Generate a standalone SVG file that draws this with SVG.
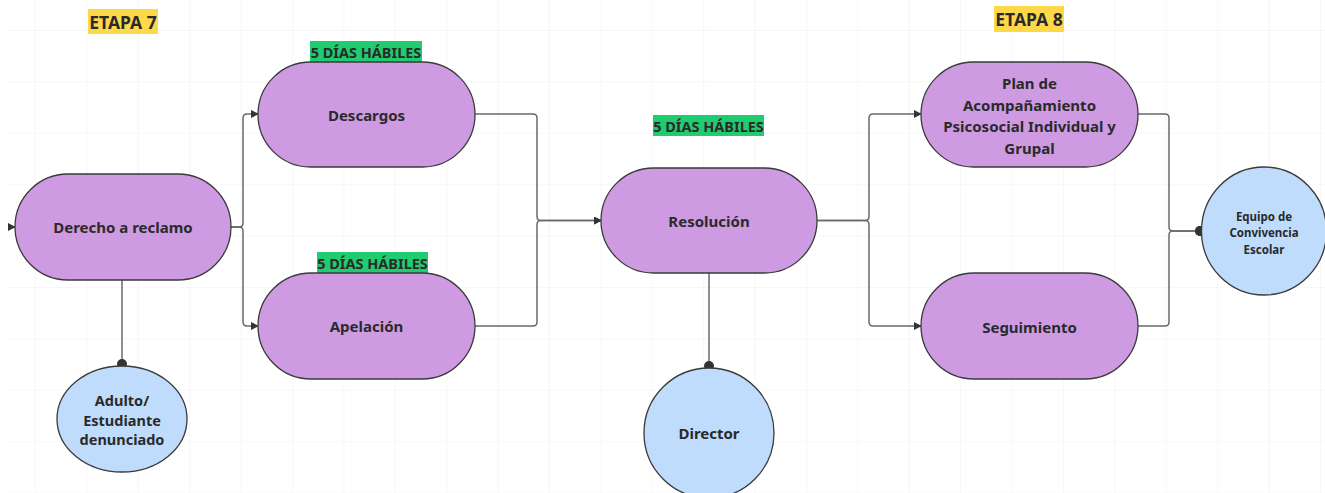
<svg xmlns="http://www.w3.org/2000/svg" width="1325" height="493" viewBox="0 0 1325 493">
<defs>
<pattern id="grid" x="35" y="30" width="51.4" height="51.4" patternUnits="userSpaceOnUse">
<path d="M0 0H51.4M0 0V51.4" fill="none" stroke="#f0f0f0" stroke-width="1.2"/>
</pattern>
<marker id="arr" viewBox="0 0 10 10" refX="9" refY="5" markerWidth="8" markerHeight="8" markerUnits="userSpaceOnUse" orient="auto">
<path d="M0 0L10 5L0 10Z" fill="#333"/>
</marker>
<marker id="dot" viewBox="0 0 10 10" refX="5" refY="5" markerWidth="10" markerHeight="10" markerUnits="userSpaceOnUse" orient="auto">
<circle cx="5" cy="5" r="5" fill="#333"/>
</marker>
</defs>
<style>
.pill{fill:#ce9be3;stroke:#3a3a3a;stroke-width:1.3}
.circ{fill:#bfdcfc;stroke:#3a3a3a;stroke-width:1.3}
.t{font-family:"Noto Sans","Open Sans",sans-serif;font-weight:bold;fill:#2a2a2a;text-anchor:middle;dominant-baseline:central}
.t15{font-size:15px}
.t14{font-size:14.5px}
.t11{font-size:11.5px}
.c{fill:none;stroke:#6a6a6a;stroke-width:1.5}
.yl{fill:#fdd94a}
.gr{fill:#1fcc6f}
</style>
<rect width="1325" height="493" fill="#ffffff"/>
<rect x="8" y="0" width="1317" height="493" fill="url(#grid)"/>

<g id="labels">
<rect class="yl" x="88" y="9" width="70" height="25"/>
<text class="t" x="123" y="22" font-size="17.5">ETAPA 7</text>
<rect class="yl" x="994" y="6" width="70" height="26"/>
<text class="t" x="1029" y="19" font-size="17.5">ETAPA 8</text>
<rect class="gr" x="310" y="41" width="112" height="21"/>
<text class="t t14" x="366" y="51.5">5 DÍAS HÁBILES</text>
<rect class="gr" x="317" y="252" width="111" height="21"/>
<text class="t t14" x="372.5" y="262.5">5 DÍAS HÁBILES</text>
<rect class="gr" x="653" y="115" width="111" height="21"/>
<text class="t t14" x="708.5" y="125.5">5 DÍAS HÁBILES</text>
</g>

<g id="connectors">
<path class="c" d="M8 227H15" marker-end="url(#arr)"/>
<path class="c" d="M231 227H239Q243 227 243 223V118Q243 114 247 114H258" marker-end="url(#arr)"/>
<path class="c" d="M231 227H239Q243 227 243 231V322Q243 326 247 326H258" marker-end="url(#arr)"/>
<path class="c" d="M475 114H533Q537 114 537 118V216.5Q537 220.5 541 220.5H601" marker-end="url(#arr)"/>
<path class="c" d="M475 326H533Q537 326 537 322V224.5Q537 220.5 541 220.5H601" marker-end="url(#arr)"/>
<path class="c" d="M817 220.5H865Q869 220.5 869 216.5V118Q869 114 873 114H921" marker-end="url(#arr)"/>
<path class="c" d="M817 220.5H865Q869 220.5 869 224.5V322Q869 326 873 326H921" marker-end="url(#arr)"/>
<path class="c" d="M1138 114H1165Q1169 114 1169 118V227Q1169 231 1173 231H1200" marker-end="url(#dot)"/>
<path class="c" d="M1138 326H1165Q1169 326 1169 322V235Q1169 231 1173 231H1200" marker-end="url(#dot)"/>
<path class="c" d="M122 280V364" marker-end="url(#dot)"/>
<path class="c" d="M709 273V366" marker-end="url(#dot)"/>
</g>

<g id="derecho">
<rect class="pill" x="15" y="174" width="216" height="106" rx="53"/>
<text class="t t15" x="123" y="227">Derecho a reclamo</text>
</g>
<g id="descargos">
<rect class="pill" x="258" y="62" width="217" height="105" rx="52.5"/>
<text class="t t15" x="366.5" y="115">Descargos</text>
</g>
<g id="apelacion">
<rect class="pill" x="258" y="273" width="217" height="106" rx="53"/>
<text class="t t15" x="366.5" y="326">Apelación</text>
</g>
<g id="resolucion">
<rect class="pill" x="601" y="168" width="216" height="105" rx="52.5"/>
<text class="t t15" x="709" y="221">Resolución</text>
</g>
<g id="plan">
<rect class="pill" x="921" y="62" width="217" height="105" rx="52.5"/>
<text class="t t15" x="1029.5" y="83">Plan de</text>
<text class="t t15" x="1029.5" y="105">Acompañamiento</text>
<text class="t t15" x="1029.5" y="126">Psicosocial Individual y</text>
<text class="t t15" x="1029.5" y="148">Grupal</text>
</g>
<g id="seguimiento">
<rect class="pill" x="921" y="273" width="217" height="106" rx="53"/>
<text class="t t15" x="1029.5" y="327">Seguimiento</text>
</g>
<g id="adulto">
<ellipse class="circ" cx="122" cy="419" rx="65" ry="53"/>
<text class="t t14" x="122" y="400">Adulto/</text>
<text class="t t14" x="122" y="419.5">Estudiante</text>
<text class="t t14" x="122" y="439">denunciado</text>
</g>
<g id="director">
<circle class="circ" cx="709" cy="433" r="65"/>
<text class="t t15" x="709" y="433">Director</text>
</g>
<g id="equipo">
<ellipse class="circ" cx="1264" cy="231" rx="62.5" ry="64"/>
<text class="t t11" x="1264" y="216.5">Equipo de</text>
<text class="t t11" x="1264" y="232.5">Convivencia</text>
<text class="t t11" x="1264" y="249">Escolar</text>
</g>
</svg>
